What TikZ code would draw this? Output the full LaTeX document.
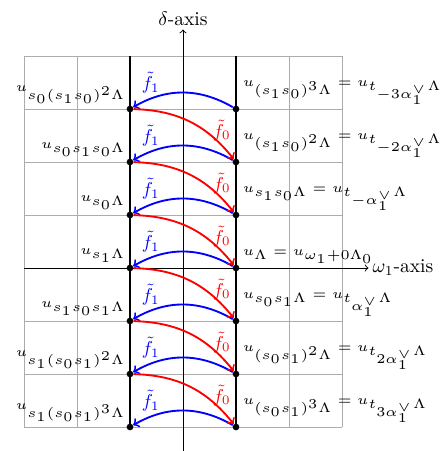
\documentclass[tikz,border=0pt]{standalone}
\usepackage{amsmath,amssymb}
\newcommand{\lab}[1]{\scalebox{1.45}{\tiny$#1$}}
\begin{document}
\begin{tikzpicture}[x=1cm,y=1cm,
  dot/.style={circle,fill=black,inner sep=0pt,minimum size=3.6pt},
  fone/.style={blue,line width=1pt,->},
  fzero/.style={red,line width=1pt,->},
  gridline/.style={gray!65,line width=0.5pt},
  wall/.style={black,line width=1.2pt},
  axis/.style={black,line width=0.5pt,->},
  leftlab/.style={above left,inner sep=2.5pt},
  rightlab/.style={above right,inner sep=2pt,xshift=1.5pt}]
\useasboundingbox (-3.453,-3.453) rectangle (4.887,5.057);
% grid
\draw[gridline] (-3,-3) grid (3,4);
% axes
\coordinate (xs) at (-3,0);
\coordinate (xe) at (3.5,0);
\coordinate (ys) at (0,-3.45);
\coordinate (ye) at (0,4.5);
\draw[axis] (xs) -- (xe);
\draw[axis] (ys) -- (ye);
\node[right,inner sep=2pt] (xlab) at (xe) {\scalebox{1.05}{$\omega_1$-axis}};
\node[above,inner sep=2pt] (ylab) at (ye) {\scalebox{1.05}{$\delta$-axis}};
% walls
\coordinate (wl1) at (-1,-3);
\coordinate (wl2) at (-1,4);
\coordinate (wr1) at (1,-3);
\coordinate (wr2) at (1,4);
\draw[wall] (wl1) -- (wl2);
\draw[wall] (wr1) -- (wr2);
% dots
\foreach \i in {1,...,7}{
  \node[dot] (L\i) at (-1,4-\i) {};
  \node[dot] (R\i) at (1,4-\i) {};
}
% f1 arcs
\foreach \i in {1,...,7}{
  \draw[fone] (R\i) to[bend right=30] (L\i);
  \node[blue] (fo\i) at ([shift={(0.39,0.5)}]L\i) {$\tilde f_1$};
}
% f0 arcs
\foreach \i [evaluate=\i as \j using int(\i+1)] in {1,...,6}{
  \draw[fzero] (L\i) to[bend left=25] (R\j);
  \node[red] (fz\i) at ([shift={(-0.27,0.6)}]R\j) {$\tilde f_0$};
}
% left labels
\node[leftlab] (ll1) at (L1) {\lab{u_{s_0(s_1s_0)^2\Lambda}}};
\node[leftlab] (ll2) at (L2) {\lab{u_{s_0s_1s_0\Lambda}}};
\node[leftlab] (ll3) at (L3) {\lab{u_{s_0\Lambda}}};
\node[leftlab] (ll4) at (L4) {\lab{u_{s_1\Lambda}}};
\node[leftlab] (ll5) at (L5) {\lab{u_{s_1s_0s_1\Lambda}}};
\node[leftlab] (ll6) at (L6) {\lab{u_{s_1(s_0s_1)^2\Lambda}}};
\node[leftlab] (ll7) at (L7) {\lab{u_{s_1(s_0s_1)^3\Lambda}}};
% right labels
\node[rightlab] (rl1) at (R1) {\lab{u_{(s_1s_0)^3\Lambda}=u_{t_{-3\alpha_1^\vee}\Lambda}}};
\node[rightlab] (rl2) at (R2) {\lab{u_{(s_1s_0)^2\Lambda}=u_{t_{-2\alpha_1^\vee}\Lambda}}};
\node[rightlab] (rl3) at (R3) {\lab{u_{s_1s_0\Lambda}=u_{t_{-\alpha_1^\vee}\Lambda}}};
\node[rightlab] (rl4) at (R4) {\lab{u_{\Lambda}=u_{\omega_1+0\Lambda_0}}};
\node[rightlab] (rl5) at (R5) {\lab{u_{s_0s_1\Lambda}=u_{t_{\alpha_1^\vee}\Lambda}}};
\node[rightlab] (rl6) at (R6) {\lab{u_{(s_0s_1)^2\Lambda}=u_{t_{2\alpha_1^\vee}\Lambda}}};
\node[rightlab] (rl7) at (R7) {\lab{u_{(s_0s_1)^3\Lambda}=u_{t_{3\alpha_1^\vee}\Lambda}}};
\end{tikzpicture}
\end{document}
